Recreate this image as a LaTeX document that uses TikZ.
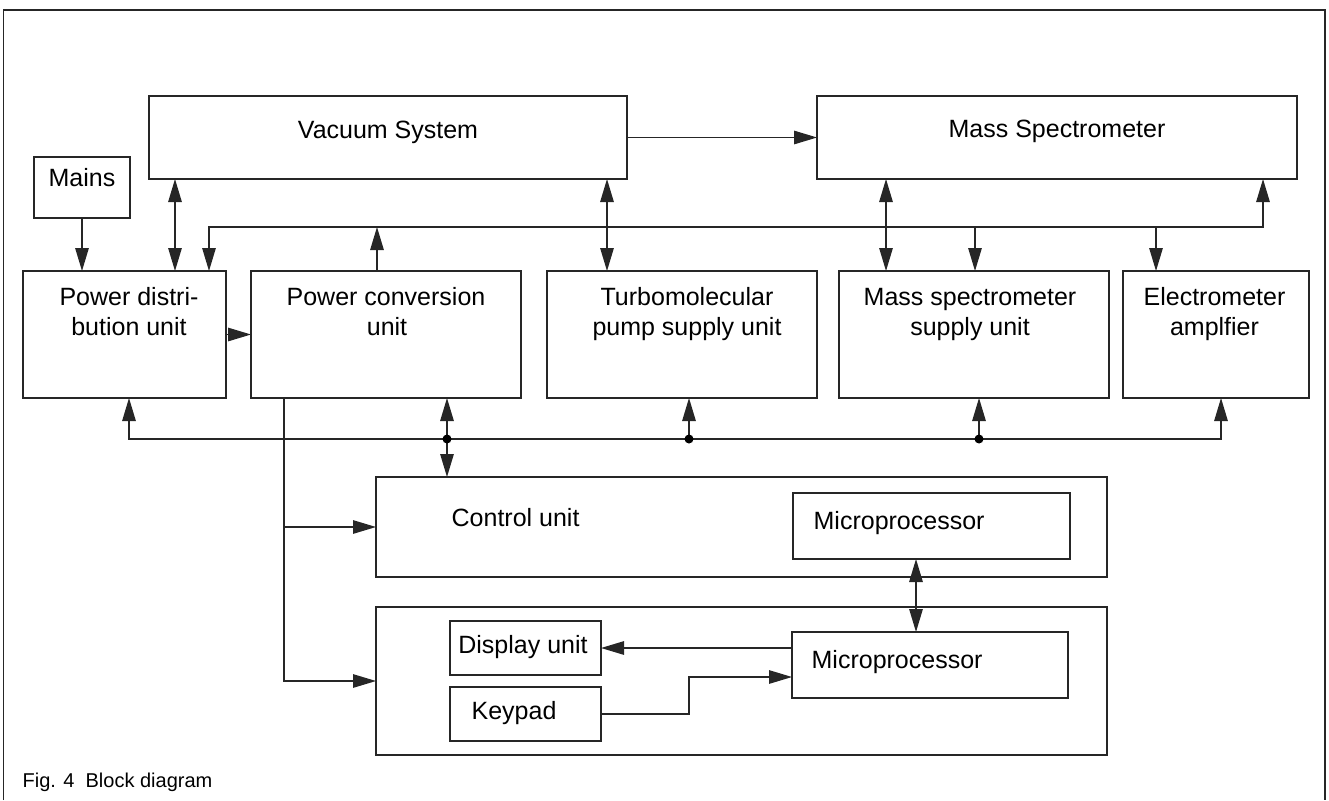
\documentclass[tikz,border=0pt]{standalone}
\usepackage{fontspec}
\setmainfont{Liberation Sans}
\usetikzlibrary{arrows.meta}
\colorlet{ln}{black!85}
\begin{document}
\begin{tikzpicture}[x=1pt,y=-1pt,
  line width=1.3pt,
  box/.style 2 args={draw=ln, line width=1.3pt, minimum width=#1, minimum height=#2, inner sep=0pt, outer sep=0pt},
  txt/.style={font=\fontsize{25}{30}\selectfont, inner sep=0pt, anchor=base, text=black},
  txtl/.style={txt, anchor=base west},
  arr/.style={draw=ln, -{Triangle[length=23pt,width=13.5pt]}},
  arrtwo/.style={draw=ln, {Triangle[length=23pt,width=13.5pt]}-{Triangle[length=23pt,width=13.5pt]}},
  dot/.style={fill=black}
]
\useasboundingbox (0,0) rectangle (1329,800);
% frame
\draw[ln] (3.5,800) -- (3.5,10) -- (1325,10) -- (1325,800);

% boxes
\node[box={478pt}{83pt}] (vs) at (388,137.5) {};
\node[txt] (vst) at (388,138) {Vacuum System};
\node[box={480pt}{83pt}] (ms) at (1057,137.5) {};
\node[txt] (mst) at (1057,137) {Mass Spectrometer};
\node[box={96pt}{61pt}] (mains) at (82,187.5) {};
\node[txt] (mainst) at (82,186) {Mains};

\node[box={203pt}{127pt}] (pdu) at (124.5,334.5) {};
\node[txt] (pdut1) at (129,305) {Power distri-};
\node[txt] (pdut2) at (129,335) {bution unit};
\node[box={270pt}{127pt}] (pcu) at (386,334.5) {};
\node[txt] (pcut1) at (386,305) {Power conversion};
\node[txt] (pcut2) at (387,335) {unit};
\node[box={270pt}{127pt}] (tpsu) at (682,334.5) {};
\node[txt] (tpsut1) at (687,305) {Turbomolecular};
\node[txt] (tpsut2) at (687,335) {pump supply unit};
\node[box={270pt}{127pt}] (mssu) at (974,334.5) {};
\node[txt] (mssut1) at (970,305) {Mass spectrometer};
\node[txt] (mssut2) at (970,335) {supply unit};
\node[box={186pt}{127pt}] (ea) at (1216,334.5) {};
\node[txt] (eat1) at (1214.5,305) {Electrometer};
\node[txt] (eat2) at (1214.5,335) {amplfier};

\node[box={731pt}{100pt}] (cu) at (741.5,527) {};
\node[txtl] (cut) at (451,526) {Control unit};
\node[box={277pt}{66pt}] (mpa) at (931.5,526) {};
\node[txtl] (mpat) at (813,529) {Microprocessor};

\node[box={731pt}{148pt}] (bb) at (741.5,681) {};
\node[box={276pt}{66pt}] (mpb) at (930,665) {};
\node[txtl] (mpbt) at (811,668) {Microprocessor};
\node[box={151pt}{54pt}] (du) at (525.5,648) {};
\node[txt] (dut) at (523,653) {Display unit};
\node[box={151pt}{54pt}] (kp) at (525.5,714) {};
\node[txtl] (kpt) at (471,719) {Keypad};

\node[font=\fontsize{20}{24}\selectfont, inner sep=0pt, anchor=base west, text=black] (cap) at (22,787) {Fig. 4\ \ Block diagram};

% helper coordinates
\coordinate (xa) at (175,0);
\coordinate (xb) at (209,0);
\coordinate (xc) at (377,0);
\coordinate (xd) at (607,0);
\coordinate (xe) at (886,0);
\coordinate (xf) at (975,0);
\coordinate (xg) at (1156,0);
\coordinate (xh) at (1263,0);
\coordinate (ub) at (0,227);
\coordinate (lb) at (0,439);
\coordinate (la) at (129,0);
\coordinate (lc) at (447,0);
\coordinate (ld) at (689,0);
\coordinate (le) at (979,0);
\coordinate (lf) at (1221,0);
\coordinate (xp) at (284,0);
\coordinate (xq) at (916,0);
\coordinate (xk) at (689,0);
\coordinate (yk) at (0,677);

% top connectors
\draw[arr] (vs.east) -- (ms.west);
\draw[arr] (mains.south) -- (pdu.north -| mains.south);
\draw[arrtwo] (vs.south -| xa) -- (pdu.north -| xa);
\draw[arrtwo] (vs.south -| xd) -- (tpsu.north -| xd);
\draw[arrtwo] (ms.south -| xe) -- (mssu.north -| xe);
\draw[arrtwo] (pdu.north -| xb) |- (ub -| xh) -- (ms.south -| xh);
\draw[arr] (pcu.north -| xc) -- (ub -| xc);
\draw[arr] (ub -| xf) -- (mssu.north -| xf);
\draw[arr] (ub -| xg) -- (ea.north -| xg);
\draw[arr] (pdu.east) -- (pcu.west);

% lower bus
\draw[arrtwo] (pdu.south -| la) |- (lb -| lf) -- (ea.south -| lf);
\draw[arr] (lb -| lc) -- (pcu.south -| lc);
\draw[arr] (lb -| lc) -- (cu.north -| lc);
\draw[arr] (lb -| ld) -- (tpsu.south -| ld);
\draw[arr] (lb -| le) -- (mssu.south -| le);
\fill[dot] (lb -| lc) circle (4.5);
\fill[dot] (lb -| ld) circle (4.5);
\fill[dot] (lb -| le) circle (4.5);

% feed from power conversion
\draw[arr] (pcu.south -| xp) |- (bb.west);
\draw[arr] (cu.west -| xp) -- (cu.west);

% lower section
\draw[arrtwo] (mpa.south -| xq) -- (mpb.north -| xq);
\draw[arr] (mpb.west |- du.east) -- (du.east);
\draw[arr] (kp.east) -| (xk |- yk) -- (mpb.west |- yk);
\end{tikzpicture}
\end{document}
